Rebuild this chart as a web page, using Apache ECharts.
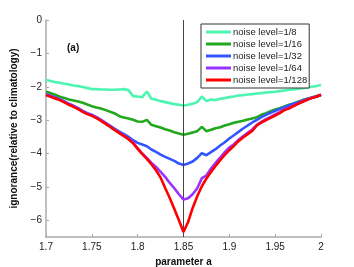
<!DOCTYPE html>
<html>
<head>
<meta charset="utf-8">
<script src="https://cdn.jsdelivr.net/npm/echarts@6/dist/echarts.min.js"></script>
<style>html,body{margin:0;padding:0;background:#fff;}#c{width:354px;height:267px;}</style>
</head>
<body>
<div id="c"></div>
<script>
const paramA = [1.700,1.705,1.710,1.715,1.720,1.725,1.730,1.735,1.740,1.745,1.750,1.755,1.760,1.765,1.770,1.775,1.780,1.785,1.790,1.795,1.800,1.805,1.810,1.815,1.820,1.825,1.830,1.835,1.840,1.845,1.850,1.855,1.860,1.865,1.870,1.875,1.880,1.885,1.890,1.895,1.900,1.905,1.910,1.915,1.920,1.925,1.930,1.935,1.940,1.945,1.950,1.955,1.960,1.965,1.970,1.975,1.980,1.985,1.990,1.995,2.000];

const noise8 = [-1.80,-1.83,-1.86,-1.88,-1.91,-1.93,-1.96,-1.98,-2.01,-2.04,-2.07,-2.07,-2.08,-2.08,-2.09,-2.09,-2.08,-2.07,-2.10,-2.28,-2.29,-2.31,-2.14,-2.36,-2.39,-2.43,-2.46,-2.49,-2.52,-2.54,-2.56,-2.54,-2.51,-2.46,-2.29,-2.43,-2.38,-2.40,-2.36,-2.34,-2.31,-2.29,-2.26,-2.25,-2.23,-2.22,-2.20,-2.19,-2.17,-2.16,-2.15,-2.13,-2.11,-2.09,-2.08,-2.06,-2.04,-2.02,-2.00,-1.98,-1.95];

const noise16 = [-2.15,-2.19,-2.24,-2.30,-2.34,-2.38,-2.41,-2.44,-2.48,-2.53,-2.58,-2.62,-2.65,-2.70,-2.75,-2.80,-2.88,-2.92,-2.95,-2.99,-3.04,-3.05,-2.99,-3.14,-3.18,-3.22,-3.27,-3.31,-3.36,-3.40,-3.44,-3.41,-3.37,-3.33,-3.20,-3.33,-3.29,-3.24,-3.21,-3.16,-3.12,-3.08,-3.05,-3.02,-2.98,-2.95,-2.91,-2.84,-2.79,-2.73,-2.68,-2.64,-2.59,-2.54,-2.50,-2.45,-2.40,-2.36,-2.32,-2.28,-2.25];

const noise32 = [-2.22,-2.27,-2.32,-2.37,-2.44,-2.51,-2.57,-2.64,-2.72,-2.79,-2.84,-2.91,-2.99,-3.08,-3.17,-3.26,-3.34,-3.42,-3.50,-3.60,-3.68,-3.73,-3.78,-3.88,-3.95,-4.03,-4.10,-4.16,-4.22,-4.30,-4.34,-4.30,-4.24,-4.13,-3.99,-4.05,-3.96,-3.87,-3.76,-3.66,-3.55,-3.45,-3.35,-3.25,-3.16,-3.07,-2.99,-2.91,-2.84,-2.78,-2.72,-2.67,-2.61,-2.56,-2.51,-2.46,-2.41,-2.37,-2.33,-2.29,-2.24];

const noise64 = [-2.23,-2.28,-2.33,-2.38,-2.45,-2.52,-2.58,-2.65,-2.73,-2.80,-2.85,-2.92,-3.00,-3.09,-3.18,-3.28,-3.37,-3.46,-3.55,-3.67,-3.84,-4.00,-4.13,-4.28,-4.40,-4.55,-4.70,-4.88,-5.04,-5.22,-5.38,-5.34,-5.22,-5.04,-4.74,-4.66,-4.45,-4.28,-4.12,-3.96,-3.82,-3.72,-3.59,-3.48,-3.38,-3.28,-3.14,-3.05,-2.97,-2.90,-2.83,-2.76,-2.68,-2.63,-2.56,-2.50,-2.44,-2.38,-2.33,-2.29,-2.24];

const noise128 = [-2.25,-2.30,-2.35,-2.40,-2.47,-2.54,-2.60,-2.67,-2.75,-2.82,-2.87,-2.94,-3.02,-3.11,-3.20,-3.30,-3.39,-3.48,-3.57,-3.69,-3.86,-4.02,-4.16,-4.32,-4.50,-4.72,-5.03,-5.33,-5.66,-6.00,-6.35,-6.05,-5.63,-5.28,-4.98,-4.75,-4.55,-4.37,-4.20,-4.04,-3.90,-3.77,-3.63,-3.52,-3.42,-3.32,-3.16,-3.07,-3.00,-2.93,-2.86,-2.79,-2.70,-2.65,-2.58,-2.51,-2.45,-2.39,-2.34,-2.30,-2.24];

const seriesNames = ['noise level=1/8','noise level=1/16','noise level=1/32','noise level=1/64','noise level=1/128'];
const seriesColors = ['#4cf5b0','#22a81c','#3355ff','#9933ff','#ff0000'];
const xTicks = [1.7,1.75,1.8,1.85,1.9,1.95,2];
const yTicks = [0,-1,-2,-3,-4,-5,-6];
const divide = 1.85;

const allValues = [noise8, noise16, noise32, noise64, noise128];
const FONT = 'Liberation Sans, Arial, sans-serif';

const series = allValues.map((vals, i) => ({
  name: seriesNames[i],
  type: 'line',
  data: paramA.map((a, k) => [a, vals[k]]),
  symbol: 'none',
  smooth: false,
  lineStyle: {color: seriesColors[i], width: 2.6},
  itemStyle: {color: seriesColors[i]},
  z: 2 + i
}));
series[4].markLine = {
  silent: true,
  symbol: 'none',
  label: {show: false},
  lineStyle: {color: '#444', width: 1, type: 'solid'},
  data: [{xAxis: divide}]
};

const chart = echarts.init(document.getElementById('c'), null, {renderer: 'canvas'});
chart.setOption({
  animation: false,
  backgroundColor: '#fff',
  textStyle: {fontFamily: FONT},
  grid: {left: 46, right: 33, top: 20, bottom: 30, containLabel: false, outerBoundsMode: 'none'},
  legend: {
    data: seriesNames,
    orient: 'vertical',
    left: 201,
    top: 24,
    icon: 'rect',
    itemWidth: 25,
    itemHeight: 3,
    itemGap: 0,
    padding: [2, 2, 2, 5],
    borderColor: '#333',
    borderWidth: 1,
    backgroundColor: '#fff',
    textStyle: {fontSize: 9.5, color: '#222', fontFamily: FONT, lineHeight: 12, padding: [0, 0, 0, -3]}
  },
  xAxis: {
    type: 'value',
    min: 1.7,
    max: 2.0,
    name: 'parameter a',
    nameLocation: 'middle',
    nameGap: 14,
    nameTextStyle: {fontSize: 10, fontWeight: 'bold', color: '#111', fontFamily: FONT},
    axisLine: {show: true, onZero: false, lineStyle: {color: '#aaa', width: 1.5}},
    axisTick: {show: true, inside: true, length: 3, customValues: xTicks, lineStyle: {color: '#aaa'}},
    axisLabel: {customValues: xTicks, fontSize: 10, color: '#222', margin: 5, fontFamily: FONT,
      formatter: v => String(+v.toFixed(2))},
    splitLine: {show: false}
  },
  yAxis: {
    type: 'value',
    min: -6.5,
    max: 0,
    name: 'ignorance(relative to climatology)',
    nameLocation: 'middle',
    nameGap: 19,
    nameTextStyle: {fontSize: 10, fontWeight: 'bold', color: '#111', fontFamily: FONT},
    axisLine: {show: true, onZero: false, lineStyle: {color: '#aaa', width: 1.5}},
    axisTick: {show: true, inside: true, length: 3, customValues: yTicks, lineStyle: {color: '#aaa'}},
    axisLabel: {customValues: yTicks, fontSize: 10, color: '#222', margin: 4, fontFamily: FONT,
      formatter: v => String(v).replace('-', '\u2212')},
    splitLine: {show: false}
  },
  graphic: [{
    type: 'text', left: 67, top: 43,
    style: {text: '(a)', font: 'bold 10px ' + FONT, fill: '#111'}
  }],
  series: series
});
</script>
</body>
</html>
